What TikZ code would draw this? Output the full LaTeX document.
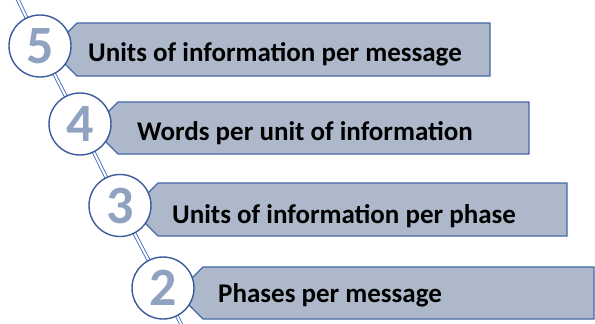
\documentclass[tikz,border=0pt]{standalone}
\usepackage{fontspec}
\setmainfont{Carlito}
\definecolor{boxfill}{RGB}{173,185,202}
\definecolor{boxline}{RGB}{68,104,168}
\definecolor{ringline}{RGB}{58,92,155}
\definecolor{digitfill}{RGB}{143,163,192}
\definecolor{railblue}{RGB}{70,110,190}
\tikzset{
  rail/.style={draw=railblue, line width=0.9pt, double=white, double distance=2pt},
  ring/.style={circle, draw=ringline, line width=1.4pt, fill=white, minimum size=62pt, inner sep=0pt},
  banner/.style={draw=boxline, line width=1.2pt, fill=boxfill},
  label/.style={anchor=base west, font=\fontsize{27}{30}\selectfont\bfseries, text=black, inner sep=0pt},
  digit/.style={font=\fontsize{54}{54}\selectfont\bfseries, text=digitfill, inner sep=0pt}
}
\newcommand{\banner}[4]{% xl, xr, top, bottom
  \path[banner] (#1,#3) -- (#2,#3) -- (#2,#4) -- (#1,#4) -- ({#1-(#4-#3)/2},{(#3+#4)/2}) -- cycle;
}
\begin{document}
\begin{tikzpicture}[x=1pt,y=-1pt]
\useasboundingbox (0,0) rectangle (595,324);
% banners
\banner{77}{490}{23}{76}
\banner{118}{529}{102}{154}
\banner{158}{567}{183}{236}
\banner{203}{594}{267}{319}
% circle positions
\coordinate (top) at (17,-2);
\coordinate (bot) at (182,326);
\coordinate (p5) at (40,46);
\coordinate (p4) at (80,124);
\coordinate (p3) at (120,205.5);
\coordinate (p2) at (163,288);
\draw[rail] (top) -- (p5) -- (p4) -- (p3) -- (p2) -- (bot);
\node[ring] (c5) at (p5) {};
\node[ring] (c4) at (p4) {};
\node[ring] (c3) at (p3) {};
\node[ring] (c2) at (p2) {};
% digits
\node[digit] (d5) at (p5) {5};
\node[digit] (d4) at (p4) {4};
\node[digit] (d3) at (p3) {3};
\node[digit] (d2) at (p2) {2};
% labels
\node[label] (t5) at (88,61) {Units of information per message};
\node[label] (t4) at (137,140) {Words per unit of information};
\node[label] (t3) at (172,223) {Units of information per phase};
\node[label] (t2) at (218,302) {Phases per message};
\end{tikzpicture}
\end{document}
